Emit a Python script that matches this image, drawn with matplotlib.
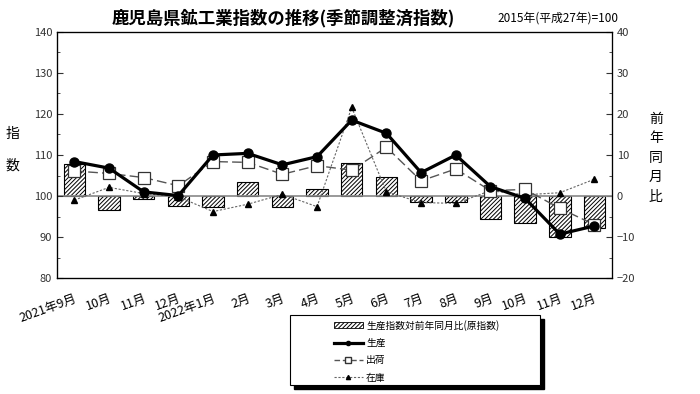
import numpy as np
import matplotlib
matplotlib.use("Agg")
import matplotlib.pyplot as plt
from matplotlib.patches import Rectangle, Patch
from matplotlib.lines import Line2D

plt.rcParams['font.family'] = ['Noto Sans CJK JP', 'DejaVu Sans']
plt.rcParams['hatch.linewidth'] = 0.7

# ---- data ----
months = ["2021年9月", "10月", "11月", "12月", "2022年1月", "2月", "3月", "4月",
          "5月", "6月", "7月", "8月", "9月", "10月", "11月", "12月"]
seisan = [108.4, 106.8, 101.0, 100.1, 110.0, 110.4, 107.6, 109.6,
          118.5, 115.3, 105.7, 110.0, 102.3, 99.4, 90.7, 92.7]
shukka = [106.1, 105.5, 104.5, 102.5, 108.4, 108.2, 105.3, 107.4,
          106.3, 111.9, 103.7, 106.6, 101.3, 101.6, 97.0, 93.0]
zaiko = [99.0, 102.1, 100.6, 99.8, 96.2, 98.0, 100.4, 97.4,
         121.6, 101.0, 98.4, 98.2, 101.3, 100.3, 100.8, 104.1]
yoy = [7.8, -3.4, -0.8, -2.4, -2.6, 3.5, -2.8, 1.6,
       8.0, 4.7, -1.5, -1.4, -5.7, -6.7, -10.1, -7.7]

x = np.arange(len(months))

fig = plt.figure(figsize=(7, 3.94), dpi=100)
ax = fig.add_axes([0.0814, 0.2944, 0.7926, 0.6244])
ax2 = ax.twinx()

# bars on the right axis (前年同月比)
ax2.bar(x, yoy, width=0.62, color="white", edgecolor="black", linewidth=0.8,
        hatch="////////", zorder=2)
ax2.set_ylim(-20, 40)
ax2.set_yticks(np.arange(-20, 41, 10))
ax2.set_yticks(np.arange(-20, 41, 5), minor=True)
ax2.tick_params(axis="y", which="both", direction="in", labelsize=8, colors="#333333",
                length=4)
ax2.tick_params(axis="y", which="minor", length=2)

# lines on the left axis (指数), drawn above the bars
ax.set_zorder(ax2.get_zorder() + 1)
ax.patch.set_visible(False)
ax.axhline(100, color="#888888", lw=1.2, zorder=1)
ax.plot(x, zaiko, linestyle=(0, (2, 1.5)), color="#666666", lw=0.8,
        marker="^", ms=4.5, mfc="black", mec="black", zorder=3)
ax.plot(x, shukka, linestyle=(0, (7, 3)), color="#555555", lw=1.0,
        marker="s", ms=8, mfc="white", mec="#333333", mew=0.9, zorder=4)
ax.plot(x, seisan, linestyle="-", color="black", lw=2.3,
        marker="o", ms=6.5, mfc="black", mec="black", zorder=5)

ax.set_xlim(-0.5, len(months) - 0.5)
ax.set_ylim(80, 140)
ax.set_yticks(np.arange(80, 141, 10))
ax.set_yticks(np.arange(80, 141, 5), minor=True)
ax.tick_params(axis="y", which="both", direction="in", labelsize=8, colors="#333333",
               length=4)
ax.tick_params(axis="y", which="minor", length=2)
ax.set_xticks(x)
ax.set_xticklabels(months, rotation=20, ha="right", rotation_mode="anchor", fontsize=9)
ax.tick_params(axis="x", length=0, pad=10)
for sp in ax.spines.values():
    sp.set_linewidth(0.9)
ax2.spines["right"].set_color("#555555")

# titles and axis captions
fig.text(0.405, 0.955, "鹿児島県鉱工業指数の推移(季節調整済指数)", ha="center", va="center",
         fontsize=12.5, fontweight="bold")
fig.text(0.797, 0.955, "2015年(平成27年)=100", ha="center", va="center", fontsize=8.5)
fig.text(0.018, 0.62, "指\n\n数", ha="center", va="center", fontsize=10,
         linespacing=1.2)
fig.text(0.937, 0.60, "前\n年\n同\n月\n比", ha="center", va="center", fontsize=10,
         linespacing=1.5)

# legend box with shadow
bx, by, bw, bh = 290 / 700, 1 - 385 / 394, 250 / 700, 70 / 394
fig.patches.append(Rectangle((bx + 4 / 700, by - 4 / 394), bw, bh, transform=fig.transFigure,
                             facecolor="black", edgecolor="black", zorder=1))
fig.patches.append(Rectangle((bx, by), bw, bh, transform=fig.transFigure,
                             facecolor="white", edgecolor="black", lw=0.8, zorder=2))
handles = [
    Patch(facecolor="white", edgecolor="black", hatch="////////", lw=0.6),
    Line2D([], [], color="black", lw=2.3, marker="o", ms=3),
    Line2D([], [], color="#555555", lw=1.0, linestyle=(0, (4, 2)), marker="s", ms=4,
           mfc="white", mec="#333333"),
    Line2D([], [], color="#666666", lw=0.8, linestyle=(0, (2, 1.5)), marker="^", ms=3,
           mfc="black", mec="black"),
]
labels = ["生産指数対前年同月比(原指数)", "生産", "出荷", "在庫"]
leg = fig.legend(handles, labels, loc="upper left", bbox_to_anchor=(330 / 700, 1 - 316 / 394),
                 frameon=False, fontsize=7, handlelength=3.0, handleheight=0.6,
                 labelspacing=0.75, handletextpad=0.3, borderaxespad=0)
leg.set_zorder(3)

fig.savefig("out.png", dpi=100)
